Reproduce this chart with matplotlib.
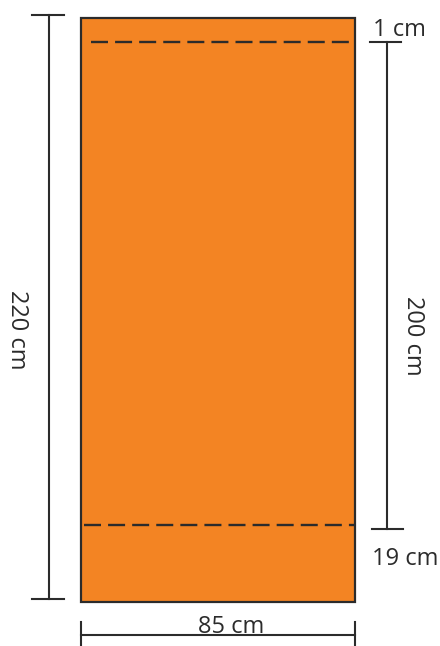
import matplotlib.pyplot as plt
from matplotlib.patches import Rectangle

# dimension labels (cm)
width_cm = 85
height_cm = 220
inner_cm = 200
top_cm = 1
bottom_cm = 19

# layout in pixel space of the 440x646 canvas
rect_x0, rect_x1 = 81, 355
rect_y0, rect_y1 = 18, 602
dash_top, dash_bot = 42, 525

orange = '#F38423'
ink = '#2b2b2b'

plt.rcParams['font.family'] = ['Open Sans', 'DejaVu Sans']

fig = plt.figure(figsize=(4.4, 6.46), dpi=100)
ax = fig.add_axes([0, 0, 1, 1])
ax.set_xlim(0, 440)
ax.set_ylim(646, 0)
ax.axis('off')

# the panel
ax.add_patch(Rectangle((rect_x0, rect_y0), rect_x1 - rect_x0, rect_y1 - rect_y0,
                       facecolor=orange, edgecolor=ink, linewidth=1.6))

# fold lines
ax.plot([91, rect_x1], [dash_top, dash_top], color=ink, lw=1.7, ls=(0, (7.2, 3.0)))
ax.plot([84, rect_x1], [dash_bot, dash_bot], color=ink, lw=1.7, ls=(0, (7.2, 3.0)))

# left dimension: total height
ax.plot([49, 49], [15, 599], color=ink, lw=1.5)
ax.plot([32, 64], [15, 15], color=ink, lw=1.5)
ax.plot([32, 64], [599, 599], color=ink, lw=1.5)
ax.text(17, 330, f'{height_cm} cm', rotation=270, ha='center', va='center',
        fontsize=17, color=ink)

# right dimension: inner height
ax.plot([387, 387], [42, 529], color=ink, lw=1.5)
ax.plot([370, 401], [42, 42], color=ink, lw=1.5)
ax.plot([372, 403], [529, 529], color=ink, lw=1.5)
ax.text(413, 336, f'{inner_cm} cm', rotation=270, ha='center', va='center',
        fontsize=17, color=ink)
ax.text(373, 30, f'{top_cm} cm', ha='left', va='center', fontsize=17, color=ink)
ax.text(372, 559, f'{bottom_cm} cm', ha='left', va='center', fontsize=17, color=ink)

# bottom dimension: width
ax.plot([rect_x0, rect_x1], [635, 635], color=ink, lw=1.5)
ax.plot([rect_x0, rect_x0], [622, 646], color=ink, lw=1.5)
ax.plot([rect_x1, rect_x1], [622, 646], color=ink, lw=1.5)
ax.text(231, 627, f'{width_cm} cm', ha='center', va='center', fontsize=17, color=ink)

plt.savefig('out.png', dpi=100)
